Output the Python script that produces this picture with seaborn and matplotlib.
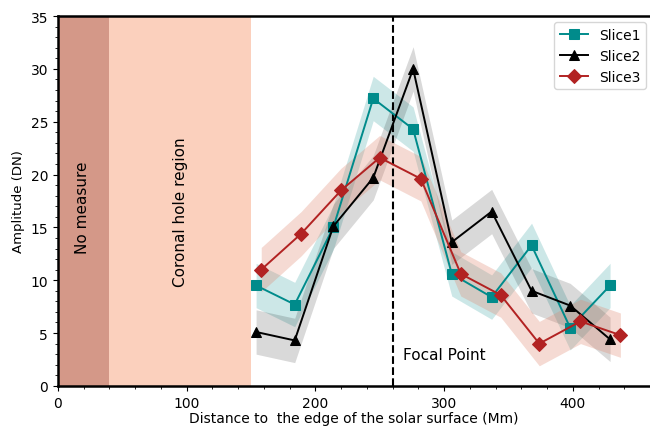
import numpy as np
import pandas as pd
import matplotlib
matplotlib.use("Agg")
import matplotlib.pyplot as plt
from matplotlib.ticker import MultipleLocator
import seaborn as sns

# Distances (Mm) and amplitudes (DN) for the three slices
dist_12 = [154, 184, 214, 245, 276, 306, 337, 368, 398, 429]
slice1 = [9.5, 7.7, 15.0, 27.2, 24.3, 10.6, 8.4, 13.3, 5.5, 9.5]
slice2 = [5.1, 4.3, 15.1, 19.7, 30.0, 13.6, 16.5, 9.0, 7.6, 4.4]
dist_3 = [158, 189, 220, 250, 282, 313, 344, 374, 406, 437]
slice3 = [11.0, 14.4, 18.5, 21.6, 19.6, 10.6, 8.6, 4.0, 6.1, 4.8]
err = 2.1

no_measure = (0, 40)
coronal_hole = (40, 150)
focal_point = 260

fig = plt.figure(figsize=(6.5, 4.27), dpi=100)
ax = fig.add_axes([0.089, 0.094, 0.911, 0.866])

ax.axvspan(*no_measure, color="#d49888", lw=0, zorder=0)
ax.axvspan(*coronal_hole, color="#fbd0bd", lw=0, zorder=0)

series = [
    ("Slice1", dist_12, slice1, "#008b8b", "s", "#008b8b", 0.2),
    ("Slice2", dist_12, slice2, "black", "^", "black", 0.15),
    ("Slice3", dist_3, slice3, "#b22222", "D", "#e0866e", 0.3),
]

for name, xs, ys, col, mk, band, a in series:
    ys = np.asarray(ys)
    ax.fill_between(xs, ys - err, ys + err, color=band, alpha=a, lw=0, zorder=1)
    df = pd.DataFrame({"x": xs, "y": ys})
    sns.lineplot(data=df, x="x", y="y", ax=ax, color=col, marker=mk,
                 markersize=7.5, markeredgecolor=col, linewidth=1.4,
                 label=name, zorder=3)

ax.axvline(focal_point, color="black", ls="--", lw=1.5, zorder=2)

ax.text(19, 17.0, "No measure", rotation=90, ha="center", va="center", fontsize=11)
ax.text(95, 16.5, "Coronal hole region", rotation=90, ha="center", va="center", fontsize=11)
ax.text(268, 3.0, "Focal Point", ha="left", va="center", fontsize=11)

ax.set_xlim(0, 460)
ax.set_ylim(0, 35)
ax.xaxis.set_major_locator(MultipleLocator(100))
ax.xaxis.set_minor_locator(MultipleLocator(20))
ax.yaxis.set_major_locator(MultipleLocator(5))
ax.yaxis.set_minor_locator(MultipleLocator(1))
ax.tick_params(labelsize=10)
ax.set_xlabel("Distance to  the edge of the solar surface (Mm)", fontsize=10, labelpad=1)
ax.set_ylabel("Amplitude (DN)", fontsize=9.5)
for s in ["left", "bottom", "top"]:
    ax.spines[s].set_linewidth(1.8)
ax.spines["right"].set_visible(False)

ax.legend(loc="upper right", fontsize=10, handlelength=2, borderaxespad=0.3,
          bbox_to_anchor=(1.0, 0.995))

fig.savefig("out.png", dpi=100)
